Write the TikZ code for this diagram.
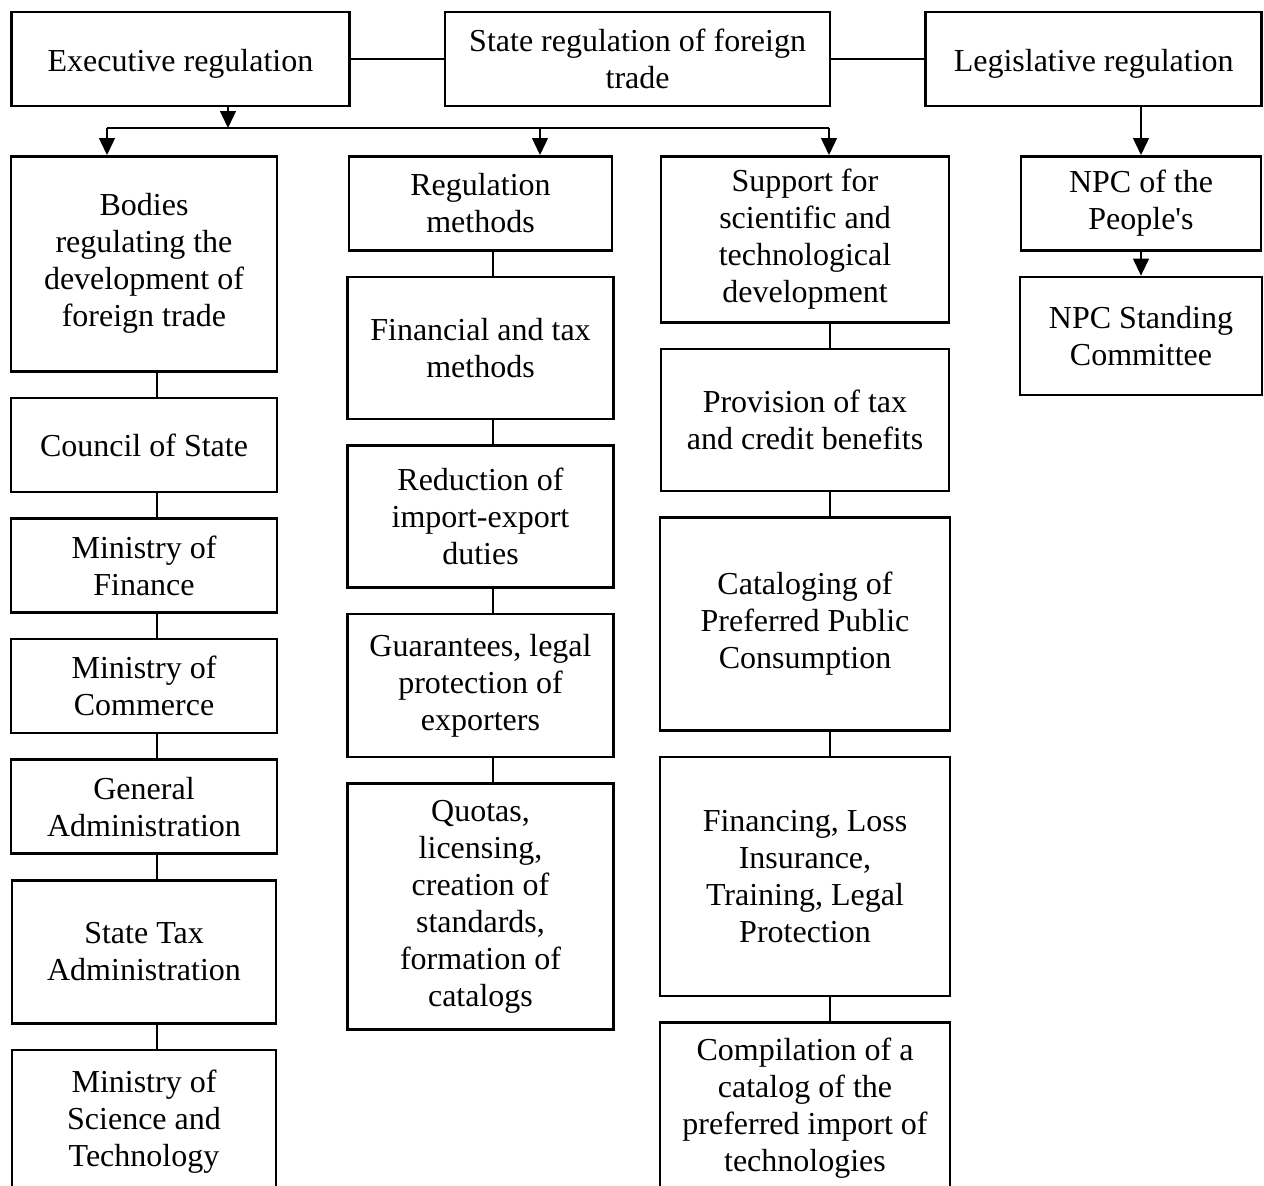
\documentclass[tikz,border=0pt]{standalone}
\usepackage{fontspec}
\setmainfont{Liberation Serif}
\usetikzlibrary{arrows.meta,positioning}

\begin{document}
\begin{tikzpicture}[x=0.5pt,y=-0.5pt,node distance=12pt and 46.5pt,
  every node/.style={font=\fontsize{16}{18.5}\selectfont},
  org/.style={draw,line width=1.3pt,align=center,inner sep=2pt,minimum width=133pt,minimum height=47pt},
  ln/.style={line width=0.65pt},
  arr/.style={ln,-{Triangle[length=8.5pt,width=8pt]}}]
\useasboundingbox (0,0) rectangle (1264,1185);
\clip (0,0) rectangle (1264,1185);
% top row
\node[org,minimum width=169pt,text height=16pt] (exe) at (180.5,59) {Executive regulation};
\node[org,minimum width=192.5pt,right=of exe] (state) {State regulation of foreign\\trade};
\node[org,minimum width=168pt,right=of state,text height=16pt] (leg) {Legislative regulation};
\draw[ln] (exe)--(state);\draw[ln] (state)--(leg);
% executive bodies
\node[org,anchor=north,minimum height=107.5pt] (bodies) at (144,155) {Bodies\\regulating the\\development of\\foreign trade};
\node[org,below=of bodies] (council) {Council of State};
\node[org,below=of council] (fin) {Ministry of\\Finance};
\node[org,below=of fin] (com) {Ministry of\\Commerce};
\node[org,below=of com] (gen) {General\\Administration};
\node[org,below=of gen,minimum width=132pt,minimum height=71.5pt] (tax) {State Tax\\Administration};
\node[org,below=of tax,minimum width=132pt,minimum height=72pt] (mst) {Ministry of\\Science and\\Technology};
% methods
\node[org,anchor=north,minimum width=131.5pt] (regm) at (480.5,155) {Regulation\\methods};
\node[org,below=of regm,minimum height=71pt] (fintax) {Financial and tax\\methods};
\node[org,below=of fintax,minimum height=71pt] (red) {Reduction of\\import-export\\duties};
\node[org,below=of red,minimum height=71.5pt] (guar) {Guarantees, legal\\protection of\\exporters};
\node[org,below=of guar,minimum height=123pt] (quo) {Quotas,\\licensing,\\creation of\\standards,\\formation of\\catalogs};
% support
\node[org,anchor=north,minimum width=144pt,minimum height=83pt] (sup) at (805,155) {Support for\\scientific and\\technological\\development};
\node[org,below=of sup,minimum width=144pt,minimum height=71pt] (prov) {Provision of tax\\and credit benefits};
\node[org,below=of prov,minimum width=145pt,minimum height=106.5pt] (cat) {Cataloging of\\Preferred Public\\Consumption};
\node[org,below=of cat,minimum width=145pt,minimum height=119.5pt] (finc) {Financing, Loss\\Insurance,\\Training, Legal\\Protection};
\node[org,below=of finc,minimum width=145pt,minimum height=85pt] (compil) {Compilation of a\\catalog of the\\preferred import of\\technologies};
% legislative
\node[org,anchor=north,minimum width=120pt] (npc) at (1141,155) {NPC of the\\People\textquotesingle{}s};
\node[org,below=of npc,minimum width=121pt,minimum height=59pt] (std) {NPC Standing\\Committee};
% links
\coordinate (c1) at (157,0);\coordinate (c2) at (493,0);\coordinate (c3) at (830,0);
\draw[ln] (bodies.south-|c1)--(council.north-|c1);\draw[ln] (council.south-|c1)--(fin.north-|c1);
\draw[ln] (fin.south-|c1)--(com.north-|c1);\draw[ln] (com.south-|c1)--(gen.north-|c1);
\draw[ln] (gen.south-|c1)--(tax.north-|c1);\draw[ln] (tax.south-|c1)--(mst.north-|c1);
\draw[ln] (regm.south-|c2)--(fintax.north-|c2);\draw[ln] (fintax.south-|c2)--(red.north-|c2);
\draw[ln] (red.south-|c2)--(guar.north-|c2);\draw[ln] (guar.south-|c2)--(quo.north-|c2);
\draw[ln] (sup.south-|c3)--(prov.north-|c3);\draw[ln] (prov.south-|c3)--(cat.north-|c3);
\draw[ln] (cat.south-|c3)--(finc.north-|c3);\draw[ln] (finc.south-|c3)--(compil.north-|c3);
% bus under executive regulation
\coordinate (hub) at (228,128);\coordinate (busL) at (107,128);
\coordinate (busM) at (540,128);\coordinate (busR) at (829,128);
\draw[arr] (exe.south-|hub)--(hub);\draw[ln] (busL)--(busR);
\draw[arr] (busL)--(bodies.north-|busL);\draw[arr] (busM)--(regm.north-|busM);\draw[arr] (busR)--(sup.north-|busR);
\draw[arr] (leg.south-|npc)--(npc.north);\draw[arr] (npc.south)--(npc.south|-std.north);
\end{tikzpicture}
\end{document}
